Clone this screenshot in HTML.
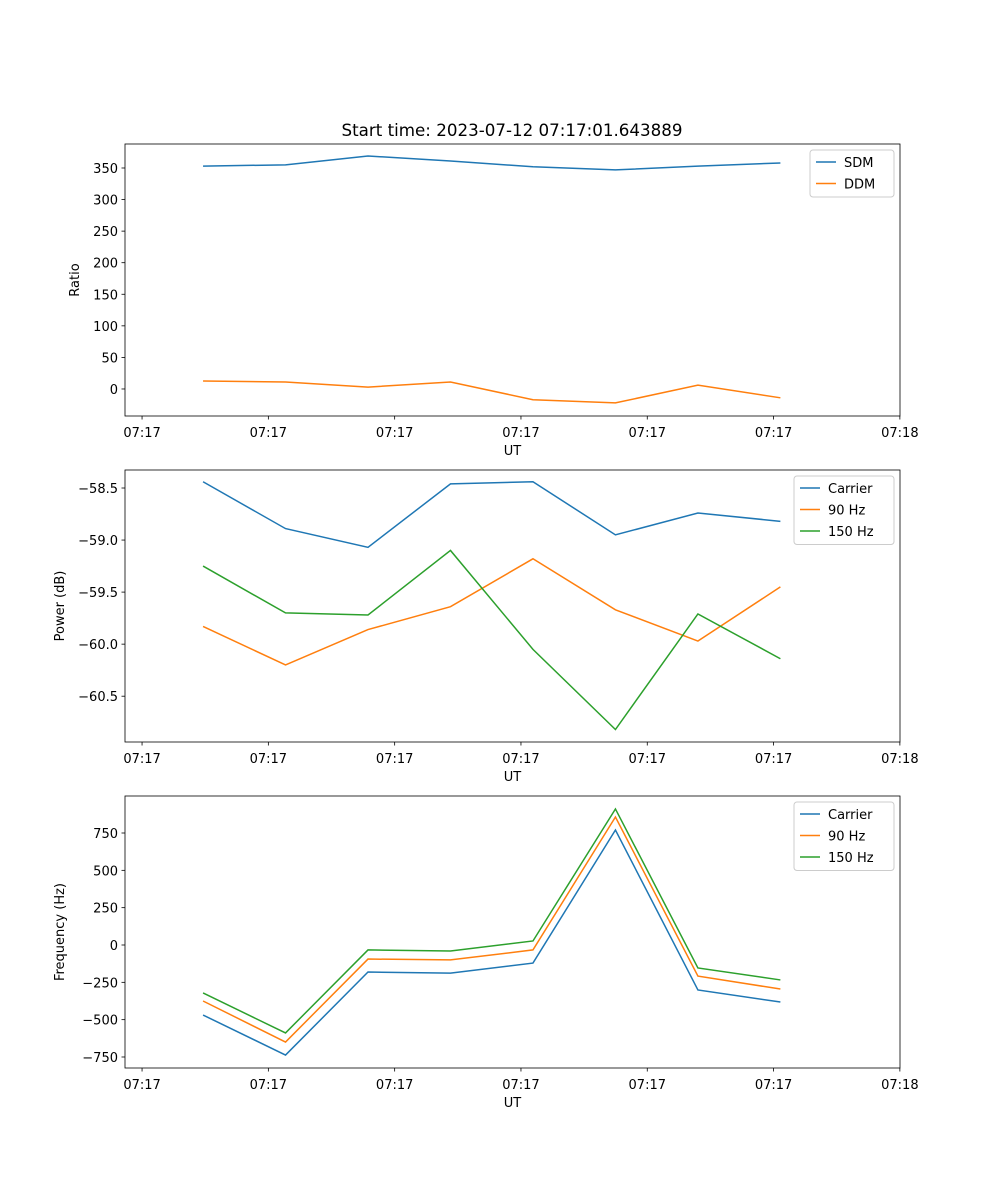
<!DOCTYPE html>
<html><head><meta charset="utf-8"><style>
body{margin:0;background:#fff}
svg{display:block;font-family:"DejaVu Sans","Liberation Sans",sans-serif}
</style></head><body>
<svg id="fig" width="1000" height="1200" xmlns="http://www.w3.org/2000/svg"></svg>
<script>
// shared x data (seconds after 07:17:00)
const times = [4.83, 11.36, 17.89, 24.42, 30.95, 37.48, 44.01, 50.54];
const xTickVals = [0, 10, 20, 30, 40, 50, 60];
const xTickLabels = ["07:17","07:17","07:17","07:17","07:17","07:17","07:18"];
// panel 1
const sdm = [353, 355, 369, 361, 352, 347, 353, 358];
const ddm = [12.7, 11, 3, 11, -17, -22, 6, -14];
const ratioTicks = [0, 50, 100, 150, 200, 250, 300, 350];
// panel 2
const powCarrier = [-58.44, -58.89, -59.07, -58.46, -58.44, -58.95, -58.74, -58.82];
const pow90 = [-59.83, -60.20, -59.86, -59.64, -59.18, -59.67, -59.97, -59.45];
const pow150 = [-59.25, -59.70, -59.72, -59.10, -60.05, -60.82, -59.71, -60.14];
const powTicks = [-58.5, -59.0, -59.5, -60.0, -60.5];
// panel 3
const freqCarrier = [-469, -737, -181, -188, -121, 770, -301, -382];
const freq90 = [-375, -650, -94, -100, -33, 857, -208, -295];
const freq150 = [-321, -589, -33, -40, 27, 911, -154, -234];
const freqTicks = [-750, -500, -250, 0, 250, 500, 750];

const NS="http://www.w3.org/2000/svg";
const svg=document.getElementById('fig');
function mk(tag,attrs,parent){const e=document.createElementNS(NS,tag);for(const k in attrs)e.setAttribute(k,attrs[k]);(parent||svg).appendChild(e);return e;}
const L=125,R=900,xmin=-1.35,xmax=60.01;
const xs=t=>L+(t-xmin)/(xmax-xmin)*(R-L);
const C={b:"#1f77b4",o:"#ff7f0e",g:"#2ca02c"};
const FS=13;

function panel(name,top,bot,ymin,ymax,ticks,fmt,ylabel,series,legend){
  const g=mk('g',{});
  
  
  const ys=v=>bot-(v-ymin)/(ymax-ymin)*(bot-top);
  series.forEach(s=>{
    const p=mk('polyline',{points:s.data.map((v,i)=>xs(times[i])+','+ys(v)).join(' '),fill:'none',stroke:s.c,'stroke-width':1.5},g);
    
    
  });
  const fr=mk('rect',{x:L,y:top,width:R-L,height:bot-top,fill:'none',stroke:'#000','stroke-width':0.8},g);
  
  
  xTickVals.forEach((t,i)=>{
    const x=xs(t);
    mk('line',{x1:x,x2:x,y1:bot,y2:bot+3.5,stroke:'#000','stroke-width':0.8},g);
    const tx=mk('text',{x:x,y:bot+21,'font-size':FS,'text-anchor':'middle'},g);tx.textContent=xTickLabels[i];
    
    
  });
  ticks.forEach(v=>{
    const y=ys(v);
    mk('line',{x1:L-3.5,x2:L,y1:y,y2:y,stroke:'#000','stroke-width':0.8},g);
    const tx=mk('text',{x:L-7,y:y+5,'font-size':FS,'text-anchor':'end'},g);tx.textContent=fmt(v);
    
    
  });
  const xl=mk('text',{x:(L+R)/2,y:bot+39,'font-size':FS,'text-anchor':'middle'},g);xl.textContent='UT';
  
  
  const yx=L-(name==='ratio-panel'?46:61);
  const yl=mk('text',{x:yx,y:(top+bot)/2,'font-size':FS,'text-anchor':'middle',transform:`rotate(-90 ${yx} ${(top+bot)/2})`},g);yl.textContent=ylabel;
  
  
  const lg=mk('g',{},g);
  
  
  mk('rect',{x:legend.x,y:top+6,width:R-6-legend.x,height:series.length*21.5+4,fill:'#fff',stroke:'#ccc',rx:3},lg);
  series.forEach((s,i)=>{
    const y=top+18+i*21.5;
    mk('line',{x1:legend.x+6,x2:legend.x+26,y1:y,y2:y,stroke:s.c,'stroke-width':1.5},lg);
    const t=mk('text',{x:legend.x+34,y:y+5,'font-size':FS},lg);t.textContent=s.label;
    
    
  });
}
const title=mk('text',{x:512,y:136,'font-size':16.7,'text-anchor':'middle'});
title.textContent='Start time: 2023-07-12 07:17:01.643889';


panel('ratio-panel',144,416,-42.8,388,ratioTicks,v=>String(v),'Ratio',
  [{n:'sdm',label:'SDM',c:C.b,data:sdm},{n:'ddm',label:'DDM',c:C.o,data:ddm}],{x:810});
panel('power-panel',470,742,-60.94,-58.327,powTicks,v=>v.toFixed(1).replace('-','\u2212'),'Power (dB)',
  [{n:'carrier',label:'Carrier',c:C.b,data:powCarrier},{n:'90hz',label:'90 Hz',c:C.o,data:pow90},{n:'150hz',label:'150 Hz',c:C.g,data:pow150}],{x:794});
panel('frequency-panel',796,1068,-823.7,997.8,freqTicks,v=>String(v).replace('-','\u2212'),'Frequency (Hz)',
  [{n:'carrier',label:'Carrier',c:C.b,data:freqCarrier},{n:'90hz',label:'90 Hz',c:C.o,data:freq90},{n:'150hz',label:'150 Hz',c:C.g,data:freq150}],{x:794});
</script>
</body></html>
